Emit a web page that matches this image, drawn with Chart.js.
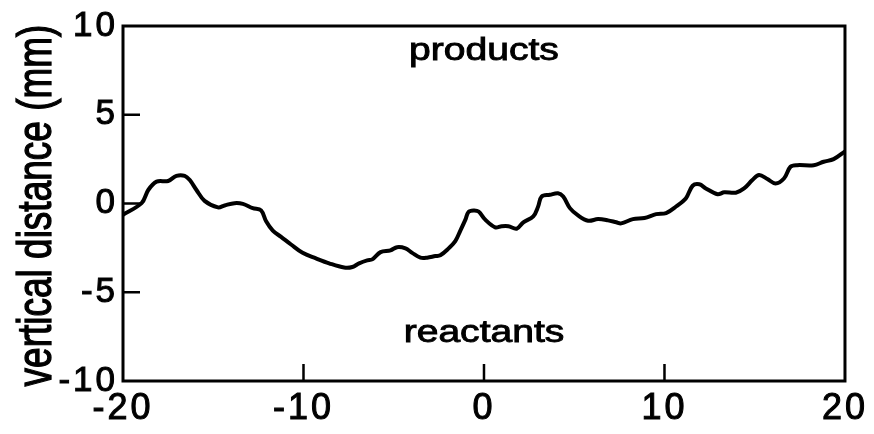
<!DOCTYPE html>
<html>
<head>
<meta charset="utf-8">
<script src="https://cdn.jsdelivr.net/npm/chart.js@4.4.0/dist/chart.umd.min.js"></script>
<style>
    html, body { margin: 0; padding: 0; background: #fff; }
    #contenedor { width: 874px; height: 434px; }
</style>
</head>
<body>
<div id="contenedor"><canvas id="grafica"></canvas></div>
<script>
// Valores
var posicionX = [-20, -18.97, -18.6, -18.14, -17.5, -17.04, -16.58, -16.3, -15.93, -15.48,
    -14.74, -14.37, -13.82, -13.36, -12.81, -12.35, -12.07, -11.7, -11.24, -10.69,
    -10.05, -9.31, -8.58, -7.75, -7.29, -6.92, -6.47, -6.19, -5.73, -5.18,
    -4.81, -4.35, -3.98, -3.52, -3.15, -2.69, -2.42, -1.96, -1.59, -1.31,
    -1.03, -0.86, -0.58, -0.3, 0.07, 0.62, 0.98, 1.35, 1.81, 2.18,
    2.73, 3.0, 3.19, 3.65, 4.1, 4.39, 4.76, 5.21, 5.77, 6.32,
    6.87, 7.33, 7.6, 8.25, 8.89, 9.54, 10.09, 10.64, 11.19, 11.56,
    11.93, 12.29, 12.94, 13.31, 13.95, 14.41, 14.87, 15.24, 15.7, 16.15,
    16.62, 16.98, 17.35, 18.27, 18.82, 19.37, 20];
var distanciaVertical = [-0.63, 0.02, 0.76, 1.23, 1.27, 1.56, 1.56, 1.32, 0.76, 0.15,
    -0.22, -0.11, 0.02, -0.02, -0.26, -0.39, -1.0, -1.53, -1.88, -2.31,
    -2.78, -3.09, -3.37, -3.61, -3.58, -3.37, -3.2, -3.15, -2.74, -2.64,
    -2.46, -2.53, -2.78, -3.05, -3.05, -2.96, -2.92, -2.53, -2.12, -1.53,
    -0.91, -0.48, -0.39, -0.45, -0.91, -1.34, -1.28, -1.28, -1.42, -1.06,
    -0.73, -0.17, 0.39, 0.49, 0.58, 0.39, -0.26, -0.67, -0.97, -0.88,
    -0.95, -1.06, -1.12, -0.88, -0.82, -0.6, -0.54, -0.17, 0.3, 1.0,
    1.08, 0.85, 0.52, 0.63, 0.61, 0.85, 1.32, 1.6, 1.38, 1.13,
    1.41, 2.07, 2.16, 2.16, 2.35, 2.5, 2.94];

var ticksX = [-20, -10, 0, 10, 20];
var ticksY = [-10, -5, 0, 5, 10];
var tituloY = 'vertical distance (mm)';
var textoArriba = 'products';
var textoAbajo = 'reactants';

var puntos = [];
posicionX.forEach(function (x, i) {
    puntos.push({ x: x, y: distanciaVertical[i] });
});

// Marco, marcas hacia dentro, textos y titulo vertical
var marcoPlugin = {
    id: 'marco',
    beforeLayout: function (chart) { chart.ctx.letterSpacing = '3px'; },
    beforeDraw: function (chart) { chart.ctx.letterSpacing = '3px'; },
    afterDraw: function (chart) {
        var ctx = chart.ctx;
        var a = chart.chartArea;
        var sx = chart.scales.x;
        var sy = chart.scales.y;
        ctx.save();
        ctx.strokeStyle = '#000';
        ctx.lineWidth = 3;
        ctx.strokeRect(a.left, a.top, a.right - a.left, a.bottom - a.top);

        ctx.lineWidth = 2.5;
        ctx.beginPath();
        ticksY.forEach(function (v) {
            if (v > ticksY[0] && v < ticksY[ticksY.length - 1]) {
                var p = sy.getPixelForValue(v);
                ctx.moveTo(a.left, p);
                ctx.lineTo(a.left + 17, p);
            }
        });
        ticksX.forEach(function (v) {
            if (v > ticksX[0] && v < ticksX[ticksX.length - 1]) {
                var p = sx.getPixelForValue(v);
                ctx.moveTo(p, a.bottom);
                ctx.lineTo(p, a.bottom - 17);
            }
        });
        ctx.stroke();

        ctx.fillStyle = '#000';
        ctx.lineWidth = 0.9;
        ctx.font = '31px "Liberation Sans", Arial, sans-serif';
        ctx.letterSpacing = '0px';
        ctx.textAlign = 'center';
        ctx.textBaseline = 'alphabetic';
        var cx = sx.getPixelForValue(0);
        [[textoArriba, 8.1], [textoAbajo, -7.8]].forEach(function (t) {
            ctx.save();
            ctx.translate(cx, sy.getPixelForValue(t[1]));
            ctx.scale(1.26, 1);
            ctx.fillText(t[0], 0, 0);
            ctx.strokeText(t[0], 0, 0);
            ctx.restore();
        });

        ctx.save();
        ctx.font = '37px "Liberation Sans", Arial, sans-serif';
        ctx.textBaseline = 'middle';
        ctx.lineWidth = 1;
        ctx.translate(38, (a.top + a.bottom) / 2 + 2);
        ctx.scale(1.3, 1);
        ctx.rotate(-Math.PI / 2);
        ctx.fillText(tituloY, 0, 0);
        ctx.strokeText(tituloY, 0, 0);
        ctx.restore();
        ctx.restore();
    }
};

var grafica = new Chart(document.getElementById('grafica').getContext('2d'), {
    type: 'line',
    data: {
        datasets: [{
            data: puntos,
            borderColor: '#000',
            borderWidth: 4,
            pointRadius: 0,
            tension: 0.35,
            fill: false
        }]
    },
    options: {
        responsive: true,
        maintainAspectRatio: false,
        animation: false,
        events: [],
        layout: { padding: { top: 23, right: 26, left: 0, bottom: 0 } },
        plugins: {
            legend: { display: false },
            tooltip: { enabled: false }
        },
        scales: {
            x: {
                type: 'linear',
                min: -20,
                max: 20,
                afterBuildTicks: function (scale) {
                    scale.ticks = ticksX.map(function (v) { return { value: v }; });
                },
                afterFit: function (scale) { scale.height = 53; },
                grid: { display: false, drawTicks: false },
                border: { display: false },
                ticks: {
                    color: '#000',
                    textStrokeColor: '#000',
                    textStrokeWidth: 1,
                    padding: 6,
                    maxRotation: 0,
                    autoSkip: false,
                    font: { family: '"Liberation Sans", Arial, sans-serif', size: 36 }
                }
            },
            y: {
                min: -10,
                max: 10,
                afterBuildTicks: function (scale) {
                    scale.ticks = ticksY.map(function (v) { return { value: v }; });
                },
                afterFit: function (scale) { scale.width = 123; },
                grid: { display: false, drawTicks: false },
                border: { display: false },
                ticks: {
                    color: '#000',
                    textStrokeColor: '#000',
                    textStrokeWidth: 1,
                    padding: 5,
                    autoSkip: false,
                    font: { family: '"Liberation Sans", Arial, sans-serif', size: 35 }
                }
            }
        }
    },
    plugins: [marcoPlugin]
});
</script>
</body>
</html>
